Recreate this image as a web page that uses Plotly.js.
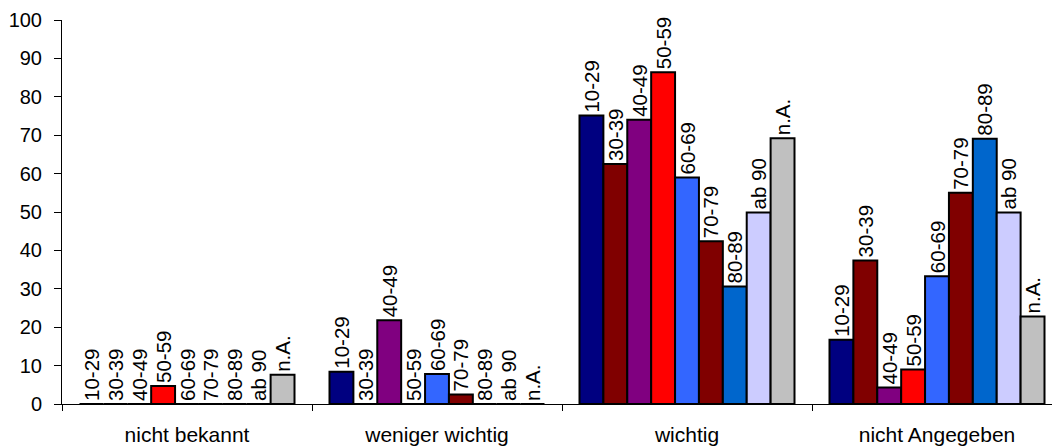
<!DOCTYPE html>
<html>
<head>
<meta charset="utf-8">
<script src="https://cdn.plot.ly/plotly-3.0.1.min.js"></script>
<style>
html,body{margin:0;padding:0;background:#fff;}
#chart{width:1052px;height:448px;}
</style>
</head>
<body>
<div id="chart"></div>
<script>
const categories = ["nicht bekannt", "weniger wichtig", "wichtig", "nicht Angegeben"];
const seriesNames = ["10-29", "30-39", "40-49", "50-59", "60-69", "70-79", "80-89", "ab 90", "n.A."];
const s1029 = [0, 8.4, 75.1, 16.7];
const s3039 = [0, 0, 62.5, 37.4];
const s4049 = [0, 21.8, 74.0, 4.3];
const s5059 = [4.7, 0, 86.4, 9.0];
const s6069 = [0, 7.8, 59.0, 33.3];
const s7079 = [0, 2.5, 42.4, 55.0];
const s8089 = [0, 0, 30.6, 69.1];
const sab90 = [0, 0, 49.9, 49.9];
const snA = [7.6, 0, 69.2, 22.8];
const yTicks = [0, 10, 20, 30, 40, 50, 60, 70, 80, 90, 100];

const seriesValues = [s1029, s3039, s4049, s5059, s6069, s7079, s8089, sab90, snA];
const colors = ["#000080", "#800000", "#800080", "#FF0000", "#3366FF", "#800000", "#0066CC", "#CCCCFF", "#C0C0C0"];
const FONT = "Liberation Sans, Arial, sans-serif";

const traces = seriesNames.map((name, i) => ({
  type: "bar",
  name: name,
  x: categories,
  y: seriesValues[i],
  text: categories.map(() => name),
  textposition: "outside",
  textangle: -90,
  constraintext: "none",
  cliponaxis: false,
  textfont: {family: FONT, size: 20.5, color: "#000"},
  marker: {color: colors[i], line: {color: "#000", width: 2}},
  hoverinfo: "none"
}));

const layout = {
  width: 1052, height: 448,
  margin: {l: 62, r: 0, t: 20, b: 44},
  paper_bgcolor: "#fff", plot_bgcolor: "#fff",
  showlegend: false,
  barmode: "group",
  bargap: 0.14,
  bargroupgap: 0,
  font: {family: FONT, size: 20, color: "#000"},
  xaxis: {
    type: "category",
    range: [-0.5, 3.46],
    showline: true, linecolor: "#000", linewidth: 1,
    ticks: "outside", tickson: "boundaries", ticklen: 6, tickcolor: "#000",
    ticklabelstandoff: 12,
    showgrid: false, zeroline: false,
    tickfont: {family: FONT, size: 21, color: "#000"},
    fixedrange: true
  },
  yaxis: {
    range: [0, 100],
    tickvals: yTicks,
    showline: true, linecolor: "#000", linewidth: 1,
    ticks: "outside", ticklen: 7, tickcolor: "#000",
    ticklabelstandoff: 8,
    showgrid: false, zeroline: false,
    tickfont: {family: FONT, size: 20, color: "#000"},
    fixedrange: true
  }
};

Plotly.newPlot("chart", traces, layout, {displayModeBar: false, staticPlot: true});
</script>
</body>
</html>
